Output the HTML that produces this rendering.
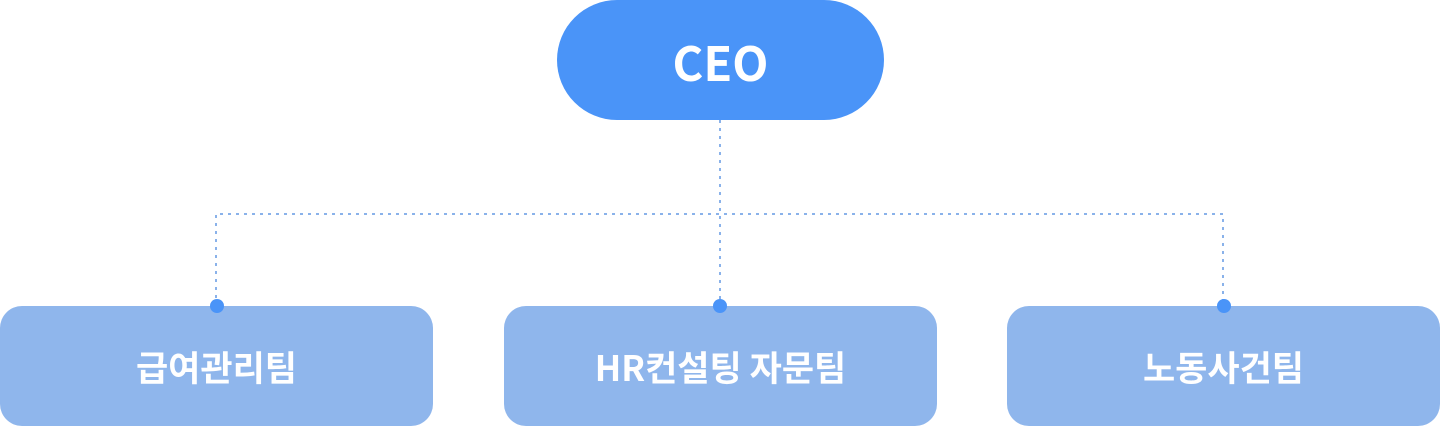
<!DOCTYPE html>
<html><head><meta charset="utf-8"><style>
html,body{margin:0;padding:0;background:#fff;}
body{width:1440px;height:426px;position:relative;overflow:hidden;font-family:"Noto Sans CJK KR","Liberation Sans",sans-serif;}
.ceo{position:absolute;left:557px;top:0;width:327px;height:120px;border-radius:60px;background:#4a94f8;color:#fff;font-weight:bold;font-size:47px;display:flex;align-items:center;justify-content:center;}
.box{position:absolute;top:306px;width:433px;height:120px;border-radius:22px;background:#8fb6ec;color:#fff;font-weight:bold;font-size:35px;display:flex;align-items:center;justify-content:center;}
svg{position:absolute;left:0;top:0;}
</style></head><body>
<div class="ceo">CEO</div>
<div class="box" style="left:0">급여관리팀</div>
<div class="box" style="left:504px">HR컨설팅 자문팀</div>
<div class="box" style="left:1007px">노동사건팀</div>
<svg width="1440" height="426">
<g stroke="#8ab2ea" stroke-width="2" stroke-dasharray="3 5" fill="none">
<path d="M720 120 V306"/>
<path d="M216 306 V214 H1223 V306"/>
</g>
<g fill="#4a94f8">
<circle cx="217" cy="306" r="7"/>
<circle cx="720" cy="306" r="7"/>
<circle cx="1224" cy="306" r="7"/>
</g>
</svg>
</body></html>
